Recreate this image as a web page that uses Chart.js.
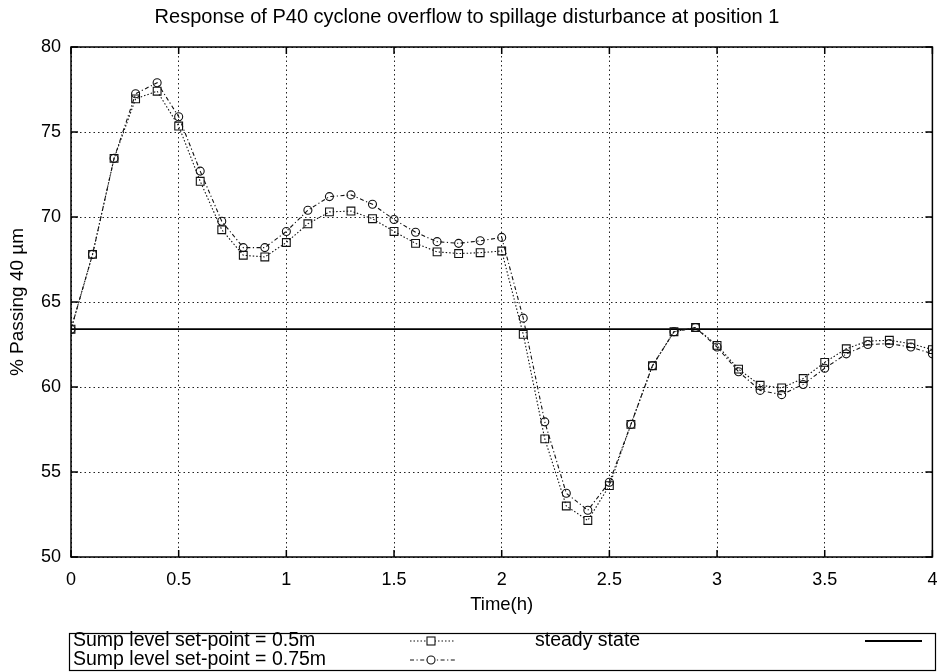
<!DOCTYPE html>
<html>
<head>
<meta charset="utf-8">
<script src="https://cdn.jsdelivr.net/npm/chart.js@4/dist/chart.umd.min.js"></script>
<style>
  html, body { margin: 0; padding: 0; background: #fff; }
  #wrap { width: 939px; height: 672px; }
</style>
</head>
<body>
<div id="wrap"><canvas id="myChart" width="939" height="672"></canvas></div>
<script>
// time axis (h)
const times = [0, 0.1, 0.2, 0.3, 0.4, 0.5, 0.6, 0.7, 0.8, 0.9, 1.0,
               1.1, 1.2, 1.3, 1.4, 1.5, 1.6, 1.7, 1.8, 1.9, 2.0,
               2.1, 2.2, 2.3, 2.4, 2.5, 2.6, 2.7, 2.8, 2.9, 3.0,
               3.1, 3.2, 3.3, 3.4, 3.5, 3.6, 3.7, 3.8, 3.9, 4.0];

// sump level set-point = 0.5m (squares)
const sump05 = [63.4, 67.8, 73.45, 76.95, 77.4, 75.35, 72.1, 69.25, 67.75, 67.65, 68.5,
                69.6, 70.3, 70.35, 69.9, 69.15, 68.45, 67.95, 67.85, 67.9, 68.0,
                63.1, 56.95, 53.0, 52.15, 54.2, 57.8, 61.25, 63.25, 63.5, 62.45,
                61.05, 60.1, 59.95, 60.5, 61.45, 62.25, 62.7, 62.75, 62.55, 62.2];

// sump level set-point = 0.75m (circles)
const sump075 = [63.4, 67.8, 73.45, 77.25, 77.9, 75.9, 72.7, 69.75, 68.2, 68.2, 69.15,
                 70.4, 71.2, 71.3, 70.75, 69.85, 69.1, 68.55, 68.45, 68.6, 68.8,
                 64.05, 57.95, 53.75, 52.75, 54.4, 57.8, 61.25, 63.25, 63.5, 62.35,
                 60.9, 59.8, 59.55, 60.15, 61.1, 61.95, 62.5, 62.55, 62.35, 61.95];

const steadyState = 63.4;

const xTicks = [0, 0.5, 1, 1.5, 2, 2.5, 3, 3.5, 4];
const yTicks = [50, 55, 60, 65, 70, 75, 80];

const seriesNames = ['Sump level set-point = 0.5m', 'Sump level set-point = 0.75m', 'steady state'];

const FONT = '"Liberation Sans", Arial, sans-serif';
const INK = '#111';

function toPoints(ys) {
    return times.map((t, i) => ({ x: t, y: ys[i] }));
}

// frame around the plot + inward ticks, like gnuplot
const framePlugin = {
    id: 'frame',
    afterDatasetsDraw(chart) {
        const { ctx, chartArea: a, scales } = chart;
        ctx.save();
        ctx.strokeStyle = '#000';
        ctx.lineWidth = 1.5;
        ctx.setLineDash([]);
        ctx.strokeRect(a.left, a.top, a.right - a.left, a.bottom - a.top);
        ctx.beginPath();
        xTicks.forEach(v => {
            const px = scales.x.getPixelForValue(v);
            ctx.moveTo(px, a.bottom); ctx.lineTo(px, a.bottom - 7);
            ctx.moveTo(px, a.top); ctx.lineTo(px, a.top + 7);
        });
        yTicks.forEach(v => {
            const py = scales.y.getPixelForValue(v);
            ctx.moveTo(a.left, py); ctx.lineTo(a.left + 7, py);
            ctx.moveTo(a.right, py); ctx.lineTo(a.right - 7, py);
        });
        ctx.stroke();
        ctx.restore();
    }
};

// boxed legend under the x axis title
const legendBoxPlugin = {
    id: 'legendBox',
    afterDraw(chart) {
        const ctx = chart.ctx;
        const boxL = 69.5, boxT = 633.5, boxR = 935.5, boxB = 670.5;
        const row1 = 641, row2 = 660;
        ctx.save();
        ctx.strokeStyle = '#000';
        ctx.lineWidth = 1.2;
        ctx.strokeRect(boxL, boxT, boxR - boxL, boxB - boxT);

        ctx.fillStyle = '#000';
        ctx.font = '19.5px ' + FONT;
        ctx.textBaseline = 'middle';
        ctx.textAlign = 'left';
        ctx.fillText(seriesNames[0], 73, row1);
        ctx.fillText(seriesNames[1], 73, row2);
        ctx.fillText(seriesNames[2], 535, row1);

        ctx.strokeStyle = INK;
        ctx.lineWidth = 1.1;
        // dotted sample with square
        ctx.setLineDash([1.5, 2]);
        ctx.beginPath(); ctx.moveTo(410, row1); ctx.lineTo(455, row1); ctx.stroke();
        ctx.setLineDash([]);
        ctx.fillStyle = '#fff';
        ctx.fillRect(427, row1 - 4, 8, 8);
        ctx.strokeRect(427, row1 - 4, 8, 8);
        // dash-dot sample with circle
        ctx.setLineDash([4, 2.5, 1.2, 2.5]);
        ctx.beginPath(); ctx.moveTo(410, row2); ctx.lineTo(455, row2); ctx.stroke();
        ctx.setLineDash([]);
        ctx.beginPath(); ctx.arc(431, row2, 4, 0, Math.PI * 2); ctx.fill(); ctx.stroke();
        // solid steady-state sample
        ctx.strokeStyle = '#000';
        ctx.lineWidth = 1.8;
        ctx.beginPath(); ctx.moveTo(865, row1); ctx.lineTo(922, row1); ctx.stroke();
        ctx.restore();
    }
};

const config = {
    type: 'line',
    data: {
        datasets: [
            {
                label: seriesNames[2],
                data: [{ x: times[0], y: steadyState }, { x: times[times.length - 1], y: steadyState }],
                borderColor: '#000',
                borderWidth: 1.8,
                pointRadius: 0,
                fill: false,
                order: 3
            },
            {
                label: seriesNames[0],
                data: toPoints(sump05),
                borderColor: INK,
                borderWidth: 1.1,
                borderDash: [1.5, 2],
                pointStyle: 'rect',
                pointRadius: 5.5,
                pointBorderWidth: 1.1,
                pointBorderColor: INK,
                pointBackgroundColor: 'rgba(255,255,255,0)',
                tension: 0,
                fill: false,
                order: 2
            },
            {
                label: seriesNames[1],
                data: toPoints(sump075),
                borderColor: INK,
                borderWidth: 1.1,
                borderDash: [4, 2.5, 1.2, 2.5],
                pointStyle: 'circle',
                pointRadius: 4,
                pointBorderWidth: 1.1,
                pointBorderColor: INK,
                pointBackgroundColor: 'rgba(255,255,255,0)',
                tension: 0,
                fill: false,
                order: 1
            }
        ]
    },
    options: {
        responsive: false,
        animation: false,
        layout: { padding: { left: 0, right: 5, top: 0, bottom: 45 } },
        plugins: {
            legend: { display: false },
            tooltip: { enabled: false },
            title: {
                display: true,
                text: 'Response of P40 cyclone overflow to spillage disturbance at position 1',
                color: '#000',
                font: { family: FONT, size: 20, weight: 'normal' },
                padding: { top: 5, bottom: 18 }
            }
        },
        scales: {
            x: {
                type: 'linear',
                min: 0,
                max: 4,
                afterFit: s => { s.height = 70; s.paddingLeft = 0; s.paddingRight = 0; },
                afterBuildTicks: s => { s.ticks = xTicks.map(v => ({ value: v })); },
                grid: { color: '#222', lineWidth: 1, drawTicks: false },
                border: { display: false, dash: [1.5, 3] },
                ticks: { color: '#000', padding: 12, font: { family: FONT, size: 18 }, maxRotation: 0, callback: v => String(v) },
                title: { display: true, text: 'Time(h)', color: '#000', padding: { top: 11, bottom: 11 }, font: { family: FONT, size: 18.5 } }
            },
            y: {
                min: 50,
                max: 80,
                afterFit: s => { s.width = 71; },
                afterBuildTicks: s => { s.ticks = yTicks.map(v => ({ value: v })); },
                grid: { color: '#222', lineWidth: 1, drawTicks: false },
                border: { display: false, dash: [1.5, 3] },
                ticks: { color: '#000', padding: 10, font: { family: FONT, size: 18 }, callback: v => String(v) },
                title: { display: true, text: '% Passing 40 µm', color: '#000', padding: { top: 6, bottom: 6 }, font: { family: FONT, size: 19 } }
            }
        }
    },
    plugins: [framePlugin, legendBoxPlugin]
};

new Chart(document.getElementById('myChart'), config);
</script>
</body>
</html>
